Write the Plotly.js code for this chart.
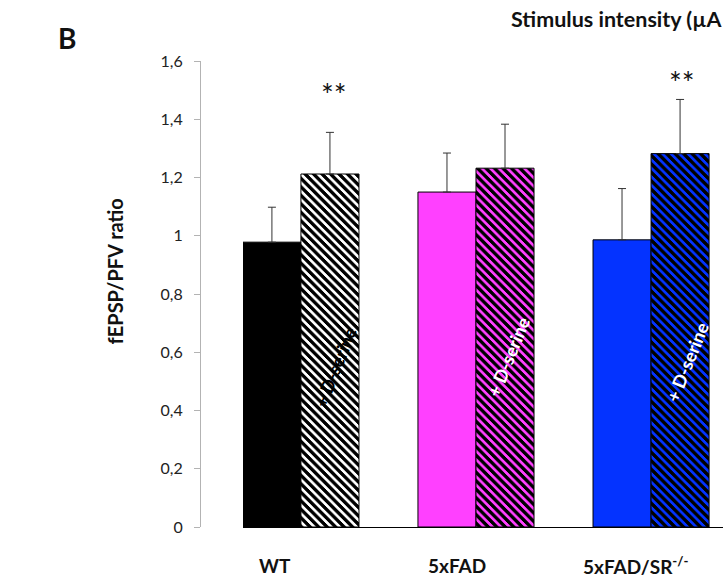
<!DOCTYPE html>
<html>
<head>
<meta charset="utf-8">
<script src="https://cdn.plot.ly/plotly-3.0.1.min.js"></script>
<style>
  html, body { margin: 0; padding: 0; background: #fff; }
  #chart { width: 723px; height: 580px; }
  pattern path { shape-rendering: crispEdges; }
</style>
</head>
<body>
<div id="chart"></div>
<script>
// ---- data ----
const groups = ["WT", "5xFAD", "5xFAD/SR<sup>-/-</sup>"];
const controlValues = [0.978, 1.150, 0.986];
const controlErrors = [0.120, 0.134, 0.176];
const dserineValues = [1.212, 1.232, 1.282];
const dserineErrors = [0.143, 0.151, 0.186];
const groupColors = ["#000000", "#FF40FF", "#0433FF"];
const hatchBg = ["#FFFFFF", "#FF40FF", "#0433FF"];
const yTickVals = [0, 0.2, 0.4, 0.6, 0.8, 1, 1.2, 1.4, 1.6];
const yTickText = ["0", "0,2", "0,4", "0,6", "0,8", "1", "1,2", "1,4", "1,6"];
const barLabel = "+ D-serine";
const barLabelColors = ["#000000", "#FFFFFF", "#FFFFFF"];
const signif = ["**", "", "**"];
const yTitle = "fEPSP/PFV ratio";
const panelLetter = "B";
const topCutText = "Stimulus intensity (µA";

const FONT = "Lato, 'Open Sans', sans-serif";

const traceControl = {
  type: "bar",
  x: groups,
  y: controlValues,
  marker: { color: groupColors, line: { color: "#000", width: 1 } },
  error_y: { type: "data", symmetric: false, array: controlErrors, arrayminus: [0, 0, 0],
             color: "#333", thickness: 1, width: 4 },
  hoverinfo: "none",
  showlegend: false
};
const traceDser = {
  type: "bar",
  x: groups,
  y: dserineValues,
  marker: {
    color: "#000000",
    line: { color: "#000", width: 1 },
    pattern: { shape: "\\", fillmode: "replace", bgcolor: hatchBg, fgcolor: "#000000",
               fgopacity: 1, size: 6, solidity: 0.5 }
  },
  error_y: { type: "data", symmetric: false, array: dserineErrors, arrayminus: [0, 0, 0],
             color: "#333", thickness: 1, width: 4 },
  hoverinfo: "none",
  showlegend: false
};

const annotations = [];
// category labels below axis
const catShift = [-26, -19, -15];
groups.forEach((g, i) => {
  annotations.push({
    x: i, xref: "x", y: -0.082, yref: "paper", text: "<b>" + g + "</b>",
    showarrow: false, xanchor: "center", yanchor: "middle", xshift: catShift[i],
    font: { family: FONT, size: 19, color: "#111" }
  });
});
// rotated labels inside hatched bars
const rotY = [0.55, 0.585, 0.567];
const rotShift = [34, 32, 36];
groups.forEach((g, i) => {
  annotations.push({
    x: i, xref: "x", y: rotY[i], yref: "y", text: "<b>" + barLabel + "</b>",
    showarrow: false, textangle: -68, xshift: rotShift[i],
    font: { family: FONT, size: 18, color: barLabelColors[i] }
  });
});
// significance stars
const starY = [1.485, 0, 1.528];
const starShift = [33, 0, 31];
signif.forEach((s, i) => {
  if (!s) return;
  annotations.push({
    x: i, xref: "x", y: starY[i], yref: "y", text: s,
    showarrow: false, xshift: starShift[i], yanchor: "middle",
    font: { family: FONT, size: 30, color: "#111" }
  });
});
// y title
annotations.push({
  xref: "paper", yref: "paper", x: -0.163, y: 0.548, text: "<b>" + yTitle + "</b>",
  showarrow: false, textangle: -90, xanchor: "center", yanchor: "middle",
  font: { family: FONT, size: 20, color: "#111" }
});
// panel letter
annotations.push({
  xref: "paper", yref: "paper", x: -0.254, y: 1.049, text: "<b>" + panelLetter + "</b>",
  showarrow: false, xanchor: "center", yanchor: "middle",
  font: { family: FONT, size: 28, color: "#111" }
});
// cropped axis title at the top (from panel A above)
annotations.push({
  xref: "paper", yref: "paper", x: 0.591, y: 1.09, text: "<b>" + topCutText + "</b>",
  showarrow: false, xanchor: "left", yanchor: "middle",
  font: { family: FONT, size: 21.5, color: "#111" }
});

const layout = {
  width: 723, height: 580,
  margin: { l: 200, r: 0, t: 61, b: 53, pad: 0 },
  paper_bgcolor: "#fff", plot_bgcolor: "#fff",
  barmode: "group", bargap: 0.337, bargroupgap: 0,
  font: { family: FONT, color: "#222" },
  xaxis: {
    type: "category", domain: [0.0822, 1], range: [-0.331, 2.411],
    showline: true, linecolor: "#000", linewidth: 1,
    showticklabels: false, ticks: "", showgrid: false, zeroline: false, fixedrange: true
  },
  yaxis: {
    anchor: "free", position: 0, range: [0, 1.6],
    tickvals: yTickVals, ticktext: yTickText,
    showline: true, linecolor: "#B3B3B3", linewidth: 1,
    ticks: "outside", ticklen: 6, tickcolor: "#B3B3B3", tickwidth: 1,
    ticklabelstandoff: 8,
    tickfont: { family: FONT, size: 16, color: "#222" },
    showgrid: false, zeroline: false, fixedrange: true
  },
  annotations: annotations
};

Plotly.newPlot("chart", [traceControl, traceDser], layout, { displayModeBar: false, staticPlot: true });
</script>
</body>
</html>
